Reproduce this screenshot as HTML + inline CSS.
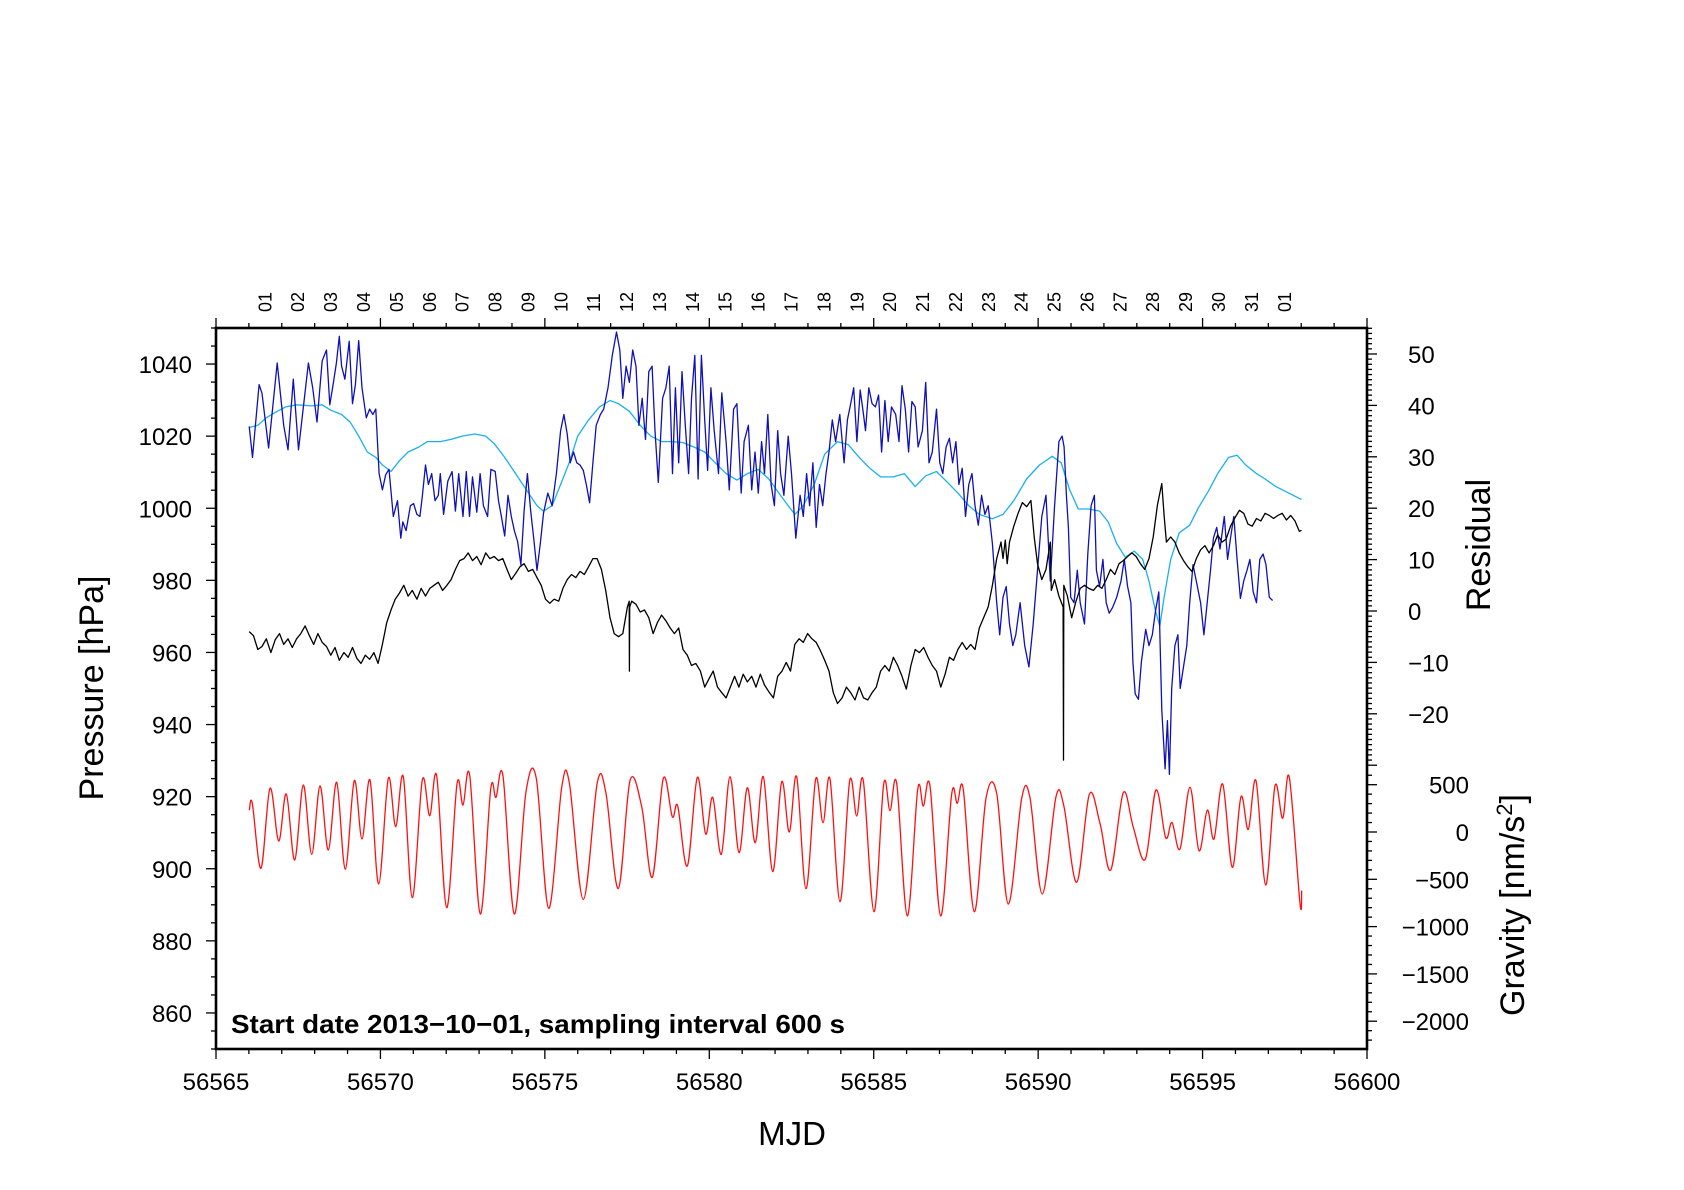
<!DOCTYPE html>
<html><head><meta charset="utf-8"><style>
html,body{margin:0;padding:0;background:#fff;}
svg{display:block;font-family:"Liberation Sans",Arial,sans-serif;}
</style></head><body>
<svg id="chart" xmlns="http://www.w3.org/2000/svg" width="1684" height="1190" viewBox="0 0 1684 1190">
<rect width="1684" height="1190" fill="#fff"/>
<g id="data-layer"></g>
<g id="axes-layer"></g>
<text x="231" y="1033" font-size="26" font-weight="bold" textLength="614" lengthAdjust="spacingAndGlyphs">Start date 2013−10−01, sampling interval 600 s</text>
<text x="792" y="1145" font-size="33" text-anchor="middle">MJD</text>
<text transform="translate(103,688) rotate(-90)" font-size="34" text-anchor="middle">Pressure [hPa]</text>
<text transform="translate(1490,545) rotate(-90)" font-size="34" text-anchor="middle">Residual</text>
<text transform="translate(1524,905) rotate(-90)" font-size="34" text-anchor="middle">Gravity [nm/s<tspan font-size="22" dy="-12">2</tspan><tspan dy="12">]</tspan></text>
</svg>
<script>
// ---- data (time = MJD - 56565) ----
const MJD0 = 56565;
const xTicks = [56565,56570,56575,56580,56585,56590,56595,56600];
const pTicks = [860,880,900,920,940,960,980,1000,1020,1040];
const rTicks = [-20,-10,0,10,20,30,40,50];
const gTicks = [-2000,-1500,-1000,-500,0,500];
const dayLabels = ["01","02","03","04","05","06","07","08","09","10","11","12","13","14","15","16","17","18","19","20","21","22","23","24","25","26","27","28","29","30","31","01"];

const gravT = [1.013,1.104,1.368,1.642,1.907,2.138,2.393,2.655,2.910,3.162,3.415,3.670,3.932,4.205,4.440,4.683,4.947,5.239,5.464,5.696,5.969,6.273,6.498,6.711,7.015,7.328,7.511,7.715,8.037,8.353,8.514,8.727,9.071,9.427,9.740,10.117,10.512,10.743,11.169,11.595,11.859,12.233,12.589,12.945,13.267,13.602,13.875,14.039,14.331,14.635,14.891,15.104,15.365,15.630,15.903,16.156,16.399,16.642,16.928,17.202,17.433,17.658,17.941,18.236,18.458,18.671,18.975,19.270,19.482,19.683,20.009,20.304,20.495,20.699,21.021,21.337,21.508,21.711,22.037,22.371,22.541,22.724,23.058,23.414,23.739,24.092,24.500,24.752,25.126,25.543,25.786,26.172,26.555,26.881,27.206,27.589,27.893,28.258,28.584,28.879,29.070,29.313,29.617,29.891,30.143,30.347,30.611,30.903,31.168,31.390,31.624,31.919,32.202,32.436,32.637,32.963,33.014];
const gravV = [232,303,-384,462,-95,402,-296,497,-236,486,-190,525,-395,542,-74,550,-550,567,56,585,-694,550,172,592,-800,507,285,599,-867,454,367,592,-867,426,567,-808,472,522,-713,522,408,-597,542,268,-479,567,162,275,-359,577,-21,367,-236,585,-218,468,-113,585,-419,531,0,585,-602,560,98,560,-737,542,169,542,-842,507,225,514,-887,449,275,486,-887,402,303,449,-842,356,407,-761,356,361,-655,373,268,-532,396,92,-402,415,50,-289,444,-60,100,-180,472,-198,232,-74,507,-373,373,28,542,-560,488,145,577,-754,-620];

const presT = [1.01,1.11,1.31,1.40,1.60,1.86,2.06,2.19,2.35,2.51,2.81,2.94,3.07,3.23,3.36,3.46,3.56,3.66,3.75,3.82,3.92,4.05,4.15,4.24,4.34,4.44,4.57,4.67,4.77,4.86,4.96,5.06,5.16,5.26,5.39,5.52,5.62,5.68,5.78,5.91,6.01,6.11,6.20,6.27,6.37,6.46,6.56,6.66,6.76,6.82,6.92,7.05,7.18,7.28,7.38,7.51,7.61,7.71,7.80,7.93,8.03,8.13,8.26,8.36,8.49,8.59,8.68,8.78,8.88,8.98,9.08,9.17,9.27,9.37,9.47,9.57,9.66,9.76,9.86,9.96,10.09,10.22,10.35,10.48,10.58,10.68,10.77,10.87,10.97,11.07,11.17,11.26,11.36,11.46,11.56,11.69,11.79,11.92,12.05,12.18,12.28,12.37,12.47,12.57,12.67,12.77,12.86,12.96,13.06,13.16,13.26,13.35,13.45,13.58,13.68,13.78,13.88,13.97,14.07,14.17,14.27,14.37,14.46,14.56,14.66,14.76,14.86,14.95,15.05,15.15,15.28,15.38,15.51,15.61,15.74,15.84,15.97,16.06,16.19,16.29,16.39,16.49,16.59,16.68,16.78,16.88,16.98,17.08,17.17,17.27,17.40,17.50,17.63,17.76,17.86,17.96,18.05,18.15,18.25,18.35,18.45,18.55,18.64,18.74,18.84,18.97,19.10,19.20,19.30,19.39,19.49,19.59,19.69,19.75,19.85,19.95,20.05,20.15,20.24,20.34,20.44,20.54,20.67,20.77,20.86,20.96,21.06,21.16,21.26,21.35,21.48,21.58,21.68,21.78,21.91,22.01,22.10,22.20,22.30,22.40,22.50,22.59,22.69,22.79,22.89,22.99,23.08,23.18,23.28,23.38,23.48,23.61,23.74,23.83,23.93,24.03,24.13,24.23,24.32,24.45,24.59,24.72,24.85,24.98,25.11,25.24,25.37,25.50,25.63,25.73,25.79,25.86,25.92,25.99,26.09,26.19,26.28,26.41,26.51,26.61,26.71,26.77,26.87,26.97,27.07,27.16,27.26,27.39,27.52,27.62,27.72,27.82,27.88,27.95,28.05,28.14,28.27,28.37,28.47,28.57,28.67,28.76,28.86,28.93,28.99,29.06,29.16,29.25,29.32,29.42,29.52,29.61,29.71,29.81,29.94,30.04,30.14,30.24,30.33,30.43,30.53,30.66,30.76,30.85,30.95,31.05,31.15,31.25,31.35,31.44,31.54,31.64,31.74,31.84,31.93,32.03,32.13];
const presV = [1022.7,1014.1,1034.3,1031.9,1016.7,1040.3,1023.0,1016.2,1035.8,1016.2,1040.3,1033.4,1023.9,1040.9,1043.9,1028.7,1034.3,1040.3,1047.7,1039.4,1035.8,1046.3,1029.0,1034.3,1046.5,1033.4,1025.1,1027.5,1026.0,1027.5,1009.6,1005.1,1009.3,1010.8,997.7,1002.1,991.7,996.2,993.8,1000.7,1001.3,998.3,997.7,1003.0,1012.0,1006.6,1009.6,1002.1,1003.6,1009.6,998.3,1007.5,1010.2,999.2,1009.6,997.7,1010.2,997.7,1008.7,998.9,1009.6,1000.7,997.7,1010.8,1010.2,1002.1,997.7,992.3,1003.6,997.7,993.5,990.8,984.3,999.2,1009.6,999.2,991.7,982.8,990.2,998.6,1004.2,1000.7,1009.6,1021.5,1026.0,1020.6,1012.6,1015.6,1012.6,1012.0,1010.5,1006.6,1001.5,1012.6,1023.0,1026.0,1027.5,1033.4,1042.4,1048.9,1043.9,1030.5,1039.4,1034.9,1043.9,1039.4,1023.0,1030.5,1019.1,1037.9,1039.4,1021.5,1007.2,1030.5,1033.4,1039.4,1009.6,1033.4,1012.6,1037.9,1023.0,1009.6,1030.5,1042.4,1008.1,1042.4,1024.5,1010.5,1033.4,1021.5,1009.6,1032.0,1018.5,1005.1,1027.5,1029.0,1004.2,1018.5,1023.0,1005.1,1015.6,1004.2,1018.5,1009.6,1026.0,1006.6,1000.7,1021.5,1009.6,1003.6,1020.0,1009.6,991.7,1003.6,997.7,1009.6,1000.7,1012.6,994.7,1006.6,1000.7,1009.6,1015.6,1024.5,1018.5,1026.0,1012.6,1024.5,1029.0,1033.4,1018.5,1032.8,1026.0,1021.5,1033.4,1029.0,1028.1,1031.4,1015.6,1029.9,1018.5,1028.1,1026.0,1018.5,1034.0,1027.5,1015.6,1029.6,1028.1,1017.0,1021.5,1034.9,1012.6,1015.6,1027.5,1012.6,1009.6,1017.0,1019.4,1012.6,1018.5,1006.6,1011.1,997.7,1006.6,1009.6,1000.7,995.3,1003.6,998.3,1000.7,990.2,973.8,964.9,975.3,978.3,967.9,961.9,964.9,973.8,961.9,956.0,967.9,982.8,997.7,1003.6,979.8,1000.7,1018.5,1020.0,1017.0,1003.6,994.7,975.3,973.8,982.8,973.8,967.9,987.3,1000.7,1003.6,982.8,978.3,985.8,973.8,970.9,972.4,975.3,979.8,985.8,978.3,973.8,957.4,948.5,947.0,957.4,966.4,961.9,964.9,971.5,976.8,944.0,927.7,941.1,926.2,950.0,961.9,964.9,950.0,956.0,961.9,973.8,984.3,979.8,973.8,964.9,973.8,982.8,991.7,994.7,988.7,997.7,985.8,991.7,997.7,985.8,975.0,979.8,982.8,985.8,976.8,973.8,985.8,987.3,984.3,975.3,974.4];

const smoothT = [1.01,1.27,1.53,1.80,2.12,2.45,2.91,3.23,3.49,3.82,4.08,4.34,4.60,4.86,5.06,5.32,5.58,5.84,6.17,6.43,6.82,7.15,7.48,7.87,8.20,8.46,8.78,9.11,9.44,9.76,9.96,10.22,10.48,10.74,11.00,11.33,11.66,11.98,12.24,12.57,12.90,13.22,13.55,13.88,14.20,14.53,14.86,15.18,15.51,15.84,16.16,16.49,16.81,17.21,17.60,17.86,18.19,18.51,18.90,19.23,19.56,19.88,20.21,20.60,20.93,21.26,21.58,21.91,22.24,22.56,22.89,23.21,23.61,23.93,24.26,24.65,25.04,25.43,25.70,25.96,26.22,26.54,26.87,27.13,27.39,27.65,27.92,28.18,28.37,28.57,28.70,28.83,29.03,29.29,29.61,29.87,30.20,30.46,30.79,31.05,31.31,31.64,31.90,32.23,32.62,33.01];
const smoothV = [1022.4,1023.0,1025.1,1026.6,1028.1,1028.7,1028.4,1028.7,1027.2,1026.0,1023.9,1020.0,1015.6,1014.1,1012.0,1010.2,1013.2,1015.6,1017.0,1018.5,1018.5,1019.1,1020.0,1020.6,1020.0,1017.9,1014.1,1009.6,1005.1,1000.7,999.2,1000.7,1006.6,1012.6,1020.0,1024.5,1028.1,1029.9,1029.0,1026.9,1023.0,1020.0,1018.5,1018.5,1018.2,1017.0,1015.6,1012.6,1009.6,1007.8,1009.6,1010.8,1008.1,1003.0,998.3,1000.7,1006.6,1015.0,1018.5,1017.6,1014.1,1011.1,1008.7,1008.7,1009.6,1006.0,1009.0,1010.2,1007.2,1004.2,1000.7,998.3,997.1,998.3,1002.1,1008.1,1012.0,1014.4,1012.6,1005.1,999.8,999.8,999.2,996.2,990.2,986.4,988.1,985.8,979.8,971.5,967.3,975.3,985.8,993.2,995.3,1000.1,1005.1,1009.6,1014.1,1014.7,1012.0,1009.6,1008.1,1006.0,1004.2,1002.4];

const resT = [1.01,1.14,1.27,1.40,1.53,1.67,1.80,1.93,2.06,2.19,2.32,2.45,2.58,2.71,2.84,2.97,3.10,3.23,3.36,3.49,3.62,3.75,3.89,4.02,4.15,4.28,4.41,4.54,4.67,4.80,4.93,5.06,5.19,5.32,5.45,5.58,5.71,5.84,5.97,6.11,6.24,6.37,6.50,6.63,6.76,6.89,7.02,7.15,7.28,7.41,7.54,7.67,7.80,7.93,8.06,8.20,8.33,8.46,8.59,8.72,8.85,8.98,9.11,9.24,9.37,9.50,9.63,9.76,9.89,10.02,10.15,10.28,10.42,10.55,10.68,10.81,10.94,11.07,11.20,11.33,11.46,11.59,11.72,11.85,11.98,12.11,12.24,12.37,12.51,12.565,12.57,12.58,12.64,12.77,12.90,13.03,13.16,13.29,13.42,13.55,13.68,13.81,13.94,14.07,14.20,14.33,14.46,14.59,14.73,14.86,14.99,15.12,15.25,15.38,15.51,15.64,15.77,15.90,16.03,16.16,16.29,16.42,16.55,16.68,16.81,16.95,17.08,17.21,17.34,17.47,17.60,17.73,17.86,17.99,18.12,18.25,18.38,18.51,18.64,18.77,18.90,19.04,19.17,19.30,19.43,19.56,19.69,19.82,19.95,20.08,20.21,20.34,20.47,20.60,20.73,20.86,20.99,21.13,21.26,21.39,21.52,21.65,21.78,21.91,22.04,22.17,22.30,22.43,22.56,22.69,22.82,22.95,23.08,23.21,23.34,23.48,23.61,23.74,23.87,23.93,24.00,24.06,24.13,24.26,24.39,24.52,24.65,24.78,24.88,24.98,25.11,25.24,25.37,25.40,25.50,25.63,25.76,25.77,25.78,25.89,26.02,26.15,26.28,26.41,26.54,26.68,26.81,26.94,27.07,27.20,27.33,27.46,27.59,27.72,27.85,27.98,28.11,28.24,28.37,28.50,28.63,28.76,28.83,28.90,29.03,29.16,29.29,29.42,29.55,29.68,29.81,29.94,30.07,30.20,30.33,30.46,30.59,30.72,30.85,30.99,31.12,31.25,31.38,31.51,31.64,31.77,31.90,32.03,32.16,32.29,32.42,32.55,32.68,32.81,32.94,33.01];
const resV = [-4.0,-4.8,-7.5,-6.9,-5.4,-8.1,-5.6,-4.4,-6.5,-5.4,-7.1,-5.4,-4.4,-2.9,-4.8,-6.5,-4.4,-6.1,-6.9,-8.6,-7.1,-9.6,-8.1,-9.0,-7.1,-9.2,-10.2,-8.6,-9.4,-8.1,-10.2,-6.5,-2.3,0.2,2.3,3.5,5.0,2.9,4.0,2.3,4.4,2.9,4.4,5.0,5.6,4.0,5.0,6.1,8.1,9.8,10.2,11.3,9.8,10.6,9.0,11.3,10.2,10.6,9.8,10.2,8.1,6.1,7.3,8.6,9.2,7.7,8.1,6.5,5.0,2.3,1.5,2.3,1.9,4.4,6.1,7.1,6.5,7.7,7.1,8.6,10.2,10.2,8.1,4.0,-1.3,-4.4,-5.0,-4.4,0.8,1.9,-11.7,0.8,1.9,1.3,-0.2,0.2,-1.3,-4.4,-2.3,-0.8,-1.9,-3.3,-4.4,-3.3,-7.5,-8.6,-10.6,-10.2,-11.7,-14.8,-13.2,-11.7,-14.8,-15.9,-16.9,-14.8,-12.7,-14.8,-12.3,-13.8,-12.7,-14.8,-12.3,-14.4,-15.7,-16.9,-12.7,-11.7,-10.0,-11.7,-6.5,-5.4,-6.1,-4.4,-5.4,-6.1,-7.7,-9.6,-11.7,-15.9,-18.0,-16.9,-14.8,-15.9,-17.3,-14.8,-16.9,-17.3,-15.9,-14.8,-11.7,-10.6,-11.7,-9.0,-10.6,-12.7,-15.2,-10.6,-7.5,-8.1,-7.1,-9.0,-10.6,-11.7,-14.8,-12.3,-9.0,-9.6,-7.5,-6.1,-7.5,-6.5,-7.5,-3.3,-1.3,0.8,5.0,10.2,13.4,10.2,13.8,9.2,13.4,16.5,19.0,21.1,20.3,21.5,14.4,9.2,6.1,8.1,13.4,4.0,6.1,2.9,0.8,-29.0,5.0,2.9,-1.3,1.9,4.4,5.0,4.4,4.0,5.0,4.4,6.1,8.1,7.1,9.2,9.8,10.6,11.3,10.6,9.2,8.1,10.2,14.4,20.7,24.8,18.6,13.4,14.4,13.4,11.3,9.8,8.6,7.7,10.2,11.9,12.7,11.3,12.7,14.8,13.4,14.0,16.5,18.2,19.6,19.0,16.9,16.5,18.0,17.5,19.0,18.6,18.0,18.6,19.0,17.7,18.6,17.5,15.5,15.7];

// ---- axes ----
const L=216,R=1367,T=328,B=1049;
const xS = m => L + (m - MJD0) * (R - L) / 35;
const xT = t => xS(MJD0 + t);
const yP = p => T + (1050 - p) * (B - T) / 200;
const yR = r => 611 - r * 5.14;
const yG = g => 832 - g * 0.0946;
const NS = "http://www.w3.org/2000/svg";
const dataG = document.getElementById('data-layer');
const axG = document.getElementById('axes-layer');
function mk(tag, parent){ const e=document.createElementNS(NS,tag); parent.appendChild(e); return e; }
function line(x1,y1,x2,y2,w,parent){ const l=mk('line',parent); l.setAttribute('x1',x1);l.setAttribute('y1',y1);l.setAttribute('x2',x2);l.setAttribute('y2',y2);l.setAttribute('stroke','#000');l.setAttribute('stroke-width',w); return l; }
function txt(x,y,s,size,anchor,parent){ const t=mk('text',parent); t.setAttribute('x',x);t.setAttribute('y',y);t.setAttribute('font-size',size);t.setAttribute('text-anchor',anchor);t.textContent=s; return t; }

function poly(ts, vs, xf, yf, color, name){
  const p = mk('polyline', dataG);
  p.setAttribute('points', ts.map((t,i)=>xf(t).toFixed(1)+','+yf(vs[i]).toFixed(1)).join(' '));
  p.setAttribute('fill','none'); p.setAttribute('stroke',color); p.setAttribute('stroke-width','1.3');
  p.setAttribute('stroke-linejoin','round');
  
  
}
function smooth(ts, vs, xf, yf, color, name){
  const P = ts.map((t,i)=>[xf(t), yf(vs[i])]);
  let d = 'M'+P[0][0].toFixed(1)+','+P[0][1].toFixed(1);
  for(let i=0;i<P.length-1;i++){
    const p0=P[Math.max(0,i-1)], p1=P[i], p2=P[i+1], p3=P[Math.min(P.length-1,i+2)];
    const c1=[p1[0]+(p2[0]-p0[0])/6, p1[1]+(p2[1]-p0[1])/6];
    const c2=[p2[0]-(p3[0]-p1[0])/6, p2[1]-(p3[1]-p1[1])/6];
    d+=' C'+c1[0].toFixed(1)+','+c1[1].toFixed(1)+' '+c2[0].toFixed(1)+','+c2[1].toFixed(1)+' '+p2[0].toFixed(1)+','+p2[1].toFixed(1);
  }
  const p = mk('path', dataG);
  p.setAttribute('d', d); p.setAttribute('fill','none'); p.setAttribute('stroke',color); p.setAttribute('stroke-width','1.3');
  
  
}
poly(smoothT, smoothV, xT, yP, '#1ab0f0', 'smoothed-pressure-line');
poly(presT, presV, xT, yP, '#1010b8', 'pressure-line');
poly(resT, resV, xT, yR, '#000', 'residual-line');
smooth(gravT, gravV, xT, yG, '#ff1010', 'gravity-line');

// frame
const fr = mk('rect', axG);
fr.setAttribute('x',L); fr.setAttribute('y',T); fr.setAttribute('width',R-L); fr.setAttribute('height',B-T);
fr.setAttribute('fill','none'); fr.setAttribute('stroke','#000'); fr.setAttribute('stroke-width','2.6');



// bottom x ticks
for(let m=56565;m<=56600;m++){
  const big = (m%5===0);
  line(xS(m),B,xS(m),B+(big?10:5),1.3,axG);
  line(xS(m),T,xS(m),T-(big?10:5),1.3,axG);
}
xTicks.forEach(m=>{
  const t = txt(xS(m), 1090, String(m), 24, 'middle', axG);
  
  
});
// top day labels
dayLabels.forEach((s,i)=>{
  const x = xT(1.5+i);
  const t = mk('text', axG);
  t.setAttribute('transform','translate('+(x+6).toFixed(1)+',312) rotate(-90)');
  t.setAttribute('font-size','18'); t.textContent=s;
  
  
});
// left pressure ticks
for(let p=850;p<=1050;p+=5){
  const big = (p%20===0);
  line(L,yP(p),L-(big?10:5),yP(p),1.3,axG);
}
pTicks.forEach(p=>{
  const t = txt(192, yP(p)+9, String(p), 24, 'end', axG);
  
  
});
// right residual ticks
for(let r=-30;r<=55;r++){
  const big = (r%10===0);
  if(yR(r)<T) continue;
  line(R,yR(r),R+(big?10:5),yR(r),1.3,axG);
}
rTicks.forEach(r=>{
  const t = txt(1408, yR(r)+9, (r<0?'−':'')+Math.abs(r), 24, 'start', axG);
  
  
});
// right gravity ticks
for(let g=-2300;g<=600;g+=100){
  const big = (g%500===0);
  if(yG(g)>B) continue;
  line(R,yG(g),R+(big?10:5),yG(g),1.3,axG);
}
gTicks.forEach(g=>{
  const t = txt(1469, yG(g)+9, (g<0?'−':'')+Math.abs(g), 24, 'end', axG);
  
  
});
</script>
</body></html>
